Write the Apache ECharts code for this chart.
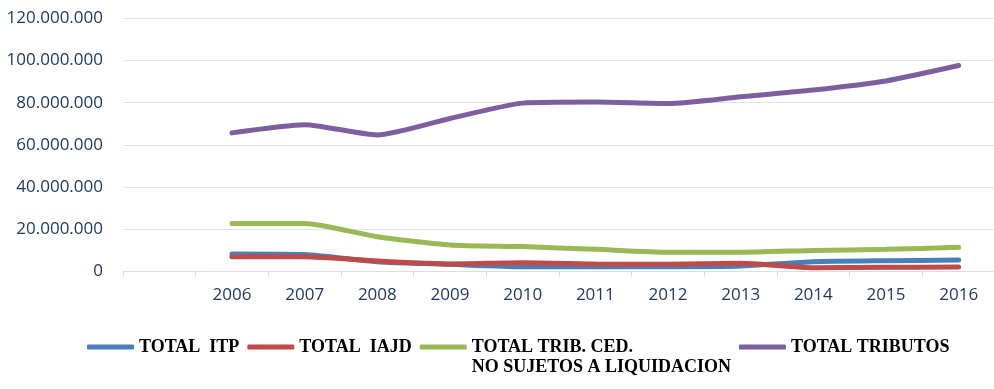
<!DOCTYPE html>
<html>
<head>
<meta charset="utf-8">
<script src="https://cdn.jsdelivr.net/npm/echarts@6/dist/echarts.min.js"></script>
<style>html,body{margin:0;padding:0;background:#fff;}#c{width:994px;height:389px;}</style>
</head>
<body>
<div id="c"></div>
<script>
const categories = ['', '2006', '2007', '2008', '2009', '2010', '2011', '2012', '2013', '2014', '2015', '2016'];
const yTicks = [0, 20000000, 40000000, 60000000, 80000000, 100000000, 120000000];
const seriesNames = ['TOTAL  ITP', 'TOTAL  IAJD', 'TOTAL TRIB. CED.\nNO SUJETOS A LIQUIDACION', 'TOTAL TRIBUTOS'];
const totalITP = [null, 8300000, 8000000, 4600000, 3400000, 2300000, 2300000, 2300000, 2600000, 4600000, 5100000, 5400000];
const totalIAJD = [null, 7000000, 7000000, 5000000, 3600000, 4200000, 3600000, 3400000, 3900000, 1800000, 2000000, 2100000];
const totalTribCed = [null, 22800000, 22800000, 16500000, 12600000, 11800000, 10500000, 9100000, 9100000, 10000000, 10500000, 11500000];
const totalTributos = [null, 65700000, 69600000, 64700000, 72500000, 79800000, 80300000, 79600000, 82800000, 86000000, 90300000, 97600000];
const colors = ['#4A7EBB', '#BE4B48', '#98B954', '#7D5FA0'];

function fmt(v) {
  return String(v).replace(/\B(?=(\d{3})+(?!\d))/g, '.');
}

const chart = echarts.init(document.getElementById('c'));
const dataSets = [totalITP, totalIAJD, totalTribCed, totalTributos];
chart.setOption({
  animation: false,
  grid: { left: 123, right: -1, top: 18.3, bottom: 117.5, outerBoundsMode: 'none', containLabel: false },
  xAxis: {
    type: 'category',
    data: categories,
    boundaryGap: true,
    axisLine: { show: true, lineStyle: { color: '#D6DEEA', width: 1 } },
    axisTick: { show: true, length: 5, lineStyle: { color: '#D6DEEA' } },
    axisLabel: { color: '#1F3864', fontFamily: 'Open Sans', fontSize: 17, margin: 15 }
  },
  yAxis: {
    type: 'value',
    min: yTicks[0],
    max: yTicks[yTicks.length - 1],
    interval: yTicks[1] - yTicks[0],
    axisLine: { show: false },
    axisTick: { show: false },
    splitLine: { show: true, lineStyle: { color: '#DCE4F0', width: 1 } },
    axisLabel: { color: '#1F3864', fontFamily: 'Open Sans', fontSize: 17, margin: 20, formatter: fmt }
  },
  legend: {
    left: 82,
    top: 312,
    icon: 'roundRect',
    itemWidth: 47,
    itemHeight: 5,
    itemGap: 8,
    textStyle: { fontFamily: 'Liberation Serif', fontWeight: 'bold', fontSize: 18, color: '#000', lineHeight: 20 },
    formatter: function (name) { return name.indexOf('\n') >= 0 ? ' \n' + name : name; },
    data: seriesNames
  },
  series: dataSets.map((d, i) => ({
    name: seriesNames[i],
    type: 'line',
    data: d,
    smooth: 0.2,
    showSymbol: false,
    symbol: 'none',
    lineStyle: { color: colors[i], width: 5, cap: 'round' },
    itemStyle: { color: colors[i] }
  }))
});
</script>
</body>
</html>
